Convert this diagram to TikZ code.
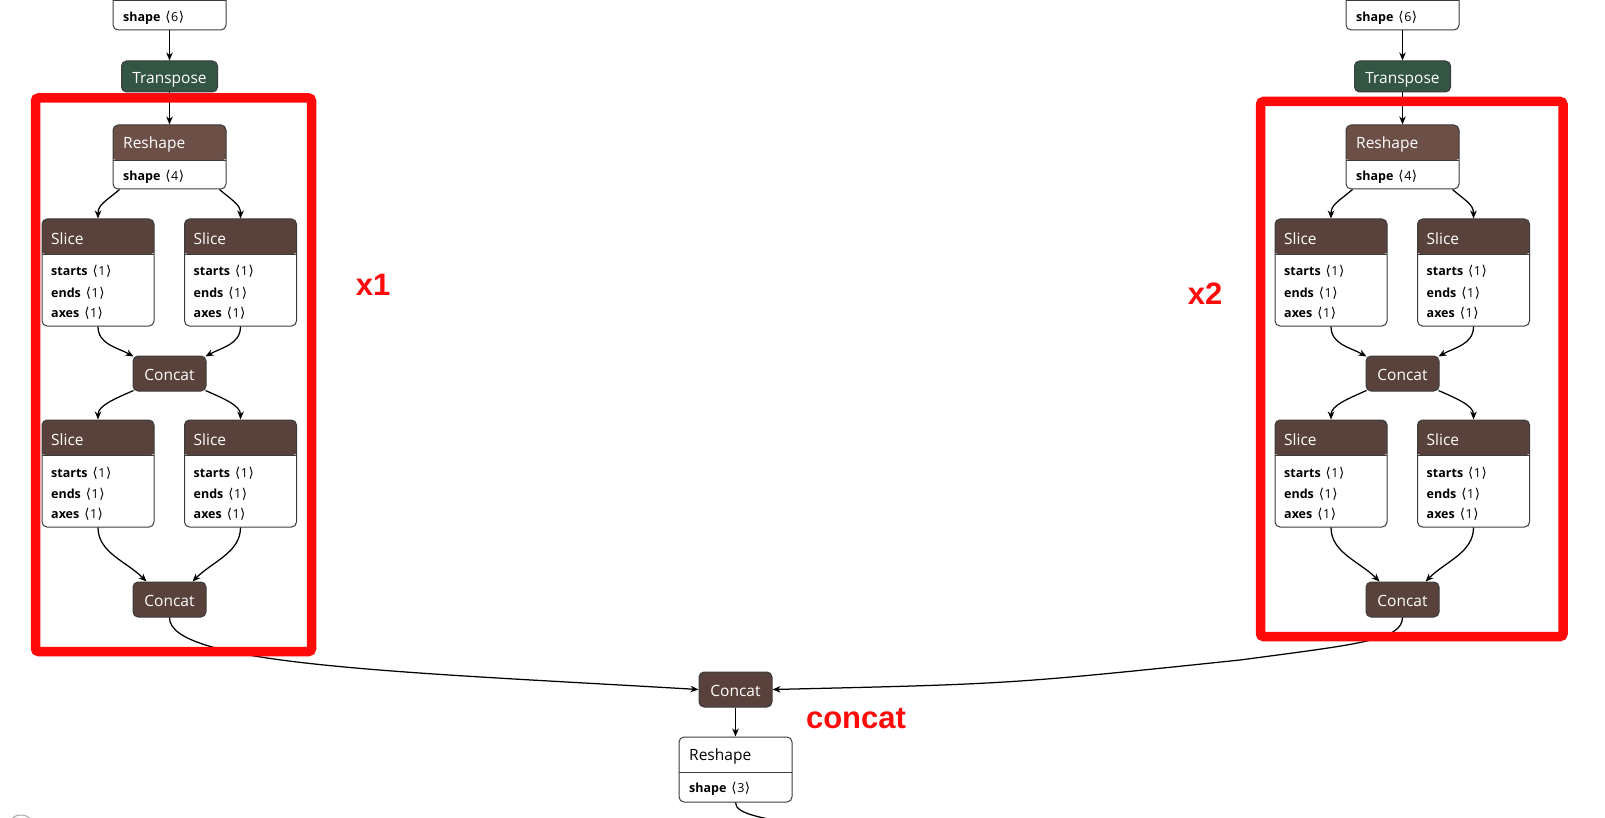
\documentclass[tikz,border=0pt]{standalone}
\usepackage{fontspec}
\setmainfont{Open Sans}
\newfontfamily\symf{DejaVu Sans}
\newfontfamily\labf{Liberation Sans}
\usetikzlibrary{arrows.meta}
\definecolor{tens}{RGB}{89,66,59}
\definecolor{shp}{RGB}{108,79,71}
\definecolor{trn}{RGB}{51,85,68}
\definecolor{bordc}{RGB}{60,60,60}
\definecolor{redc}{RGB}{255,10,10}
\newcommand\ang[1]{\hspace{5pt}{\symf\fontsize{13.5}{16}\selectfont ⟨}\hspace{0.5pt}#1\hspace{0.5pt}{\symf\fontsize{13.5}{16}\selectfont ⟩}}
\tikzset{
  box/.style={draw=bordc, line width=1pt, rounded corners=5pt, inner sep=0pt, fill=white},
  hdr/.style={path picture={\fill[#1] ([xshift=-2pt,yshift=2pt]path picture bounding box.north west) rectangle ([xshift=2pt,yshift=-35pt]path picture bounding box.north east);
      \draw[bordc,line width=0.8pt] ([yshift=-35pt]path picture bounding box.north west) -- ([yshift=-35pt]path picture bounding box.north east);}},
  opn/.style={box, fill=#1, text=white, font=\fontsize{15.5}{18}\selectfont, text height=14.5pt, text depth=0pt},
  ttl/.style={anchor=base west, inner sep=0pt, font=\fontsize{15.5}{18}\selectfont, text=white},
  attr/.style={anchor=base west, inner sep=0pt, font=\fontsize{12.5}{15}\selectfont},
  edge/.style={draw=black, line width=1.25pt, -{Stealth[length=8pt,width=6.5pt,inset=2.5pt]}},
  plain/.style={draw=black, line width=1.25pt},
  redbox/.style={draw=redc, line width=9.5pt, rounded corners=3pt},
  lab/.style={text=redc, font=\labf\bfseries\fontsize{31}{36}\selectfont, inner sep=0pt}
}
% slice operator: name, left x, top y
\newcommand\sliceop[3]{%
  \node[box, hdr=tens, minimum width=112pt, minimum height=107pt] (#1) at (#2+56,#3+53.5) {};
  \node[ttl] (#1t) at (#2+9,#3+25) {Slice};
  \node[attr] (#1s) at (#2+9,#3+57) {\textbf{starts}\ang{1}};
  \node[attr] (#1e) at (#2+9,#3+78) {\textbf{ends}\ang{1}};
  \node[attr] (#1x) at (#2+9,#3+98) {\textbf{axes}\ang{1}};
}
% one branch: prefix, x offset
\newcommand\branch[2]{%
  \node[box, hdr=shp, minimum width=113pt, minimum height=65pt] (#1tp) at (#2+169.5,-2.5) {};
  \node[attr] (#1tpa) at (#2+123,22) {\textbf{shape}\ang{6}};
  \node[opn=trn, minimum width=96pt, minimum height=31pt] (#1T) at (#2+169.5,76.5) {Transpose};
  \node[box, hdr=shp, minimum width=113pt, minimum height=64pt] (#1R) at (#2+169.5,157) {};
  \node[ttl] (#1Rt) at (#2+123,149) {Reshape};
  \node[attr] (#1Ra) at (#2+123,181) {\textbf{shape}\ang{4}};
  \sliceop{#1Sa}{#2+42}{219}
  \sliceop{#1Sb}{#2+184.5}{219}
  \node[opn=tens, minimum width=73pt, minimum height=35pt] (#1Ca) at (#2+169.5,373.5) {Concat};
  \sliceop{#1Sc}{#2+42}{420}
  \sliceop{#1Sd}{#2+184.5}{420}
  \node[opn=tens, minimum width=73pt, minimum height=35pt] (#1Cb) at (#2+169.5,599.5) {Concat};
  \draw[edge] (#1tp.south) -- (#1T.north);
  \draw[edge] (#1T.south) -- (#1R.north);
  \draw[edge] ([xshift=7pt]#1R.south west) .. controls +(-14,12) and +(0,-14) .. (#1Sa.north);
  \draw[edge] ([xshift=-7pt]#1R.south east) .. controls +(14,12) and +(0,-14) .. (#1Sb.north);
  \draw[edge] (#1Sa.south) .. controls +(0,18) and +(-16,-9) .. ([xshift=1pt,yshift=-1pt]#1Ca.north west);
  \draw[edge] (#1Sb.south) .. controls +(0,18) and +(16,-9) .. ([xshift=-1pt,yshift=-1pt]#1Ca.north east);
  \draw[edge] ([xshift=1pt,yshift=1pt]#1Ca.south west) .. controls +(-18,8) and +(0,-14) .. (#1Sc.north);
  \draw[edge] ([xshift=-1pt,yshift=1pt]#1Ca.south east) .. controls +(18,8) and +(0,-14) .. (#1Sd.north);
  \draw[edge] (#1Sc.south) .. controls +(0,25) and +(-20,-20) .. ([xshift=14pt]#1Cb.north west);
  \draw[edge] (#1Sd.south) .. controls +(0,25) and +(20,-20) .. ([xshift=-14pt]#1Cb.north east);
}
\begin{document}
\begin{tikzpicture}[x=1pt,y=-1pt]
  \useasboundingbox (0,0) rectangle (1605,818);
  \clip (0,0) rectangle (1605,818);
  \fill[white] (0,0) rectangle (1605,818);
  % branches
  \branch{L}{0}
  \branch{Q}{1233}
  % merge
  \node[opn=tens, minimum width=73pt, minimum height=35pt] (M) at (735.5,689.5) {Concat};
  \node[box, hdr=white, minimum width=113pt, minimum height=65pt] (BR) at (735.5,769.5) {};
  \node[attr, font=\fontsize{15.5}{18}\selectfont] (BRt) at (689,760) {Reshape};
  \node[attr] (BRa) at (689,792.5) {\textbf{shape}\ang{3}};
  \coordinate (out) at (785,823);
  \draw[edge] (LCb.south) .. controls (169,665) and (400,672) .. (M.west);
  \draw[edge] (QCb.south) .. controls (1402,640) and (1360,644) .. (1240,660) .. controls (1010,684) .. (M.east);
  \draw[edge] (M.south) -- (BR.north);
  \draw[plain] (BR.south) .. controls +(0,12) and +(-22,-6) .. (out);
  % red annotation boxes
  \draw[redbox] (35.5,98) rectangle (311.5,651.5);
  \draw[redbox] (1260.5,101.5) rectangle (1563,636.5);
  \node[lab] (x1) at (373,284.5) {x1};
  \node[lab] (x2) at (1205,293.5) {x2};
  \node[lab] (cc) at (856,719) {concat};
  % corner widget
  \draw[gray!70, line width=1pt] (21,829) circle (14pt);
\end{tikzpicture}
\end{document}
